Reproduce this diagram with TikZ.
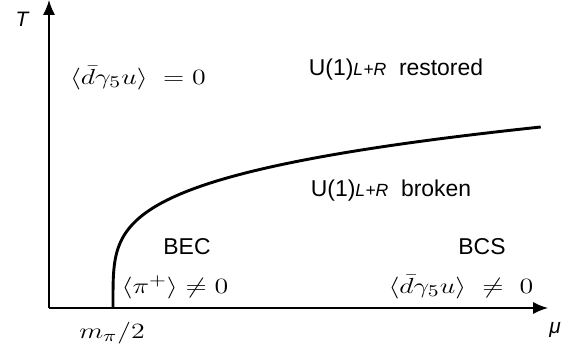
\documentclass[tikz,border=0pt]{standalone}
\usepackage{fontspec}
\setmainfont{Liberation Sans}
\usetikzlibrary{arrows.meta}

\tikzset{
  axis/.style={line width=0.8pt,-{Latex[length=8.2pt,width=6.6pt]}},
  phase/.style={font=\fontsize{12.6}{15}\selectfont},
  cond/.style={font=\fontsize{13}{15}\selectfont,xscale=1.28,transform shape},
}
\newcommand{\ulr}{U(1){\fontsize{9.7}{11}\selectfont\itshape L+R}}

\begin{document}
\begin{tikzpicture}[x=0.55pt,y=0.55pt]
  \useasboundingbox (-49,-45) rectangle (530,308);

  % axes
  \coordinate (O) at (0,0);
  \coordinate (xend) at (499,0);
  \coordinate (yend) at (0,308);
  \draw[axis] (O) -- (xend);
  \draw[axis] (O) -- (yend);
  \node[font=\fontsize{11.5}{13}\selectfont\itshape] (Tlab) at (-27,289) {T};
  \node[font=\fontsize{11.5}{13}\selectfont\itshape] (mulab) at (506,-22) {μ};
  \node[cond] (mpi) at (63,-25) {$m_\pi/2$};

  % phase boundary
  \draw[line width=1.6pt]
    plot[smooth,domain=0:181,samples=120,variable=\t]
      ({64+(\t/39.8)^4},\t);

  % regions
  \node[cond] (restcond) at (89,230) {$\langle\bar d\gamma_5 u\rangle\;= 0$};
  \node[phase] (restored) at (347,238) {\ulr\ \ restored};
  \node[phase] (broken) at (342,117) {\ulr\ \ broken};
  \node[phase] (bec) at (138,61) {BEC};
  \node[cond] (beccond) at (126,21) {$\langle\pi^+\rangle\neq 0$};
  \node[phase] (bcs) at (433,61) {BCS};
  \node[cond] (bcscond) at (412,21) {$\langle\bar d\gamma_5 u\rangle\ \neq\ 0$};
\end{tikzpicture}
\end{document}
